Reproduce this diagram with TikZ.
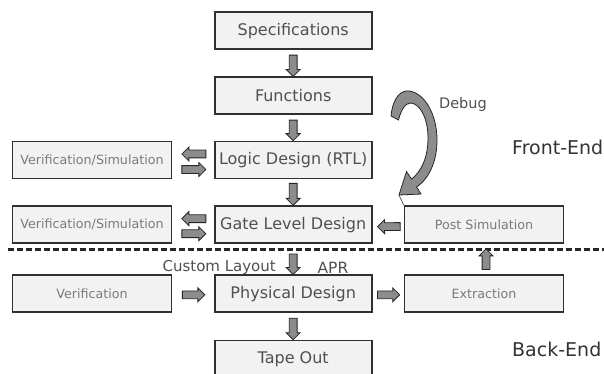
\documentclass[tikz,border=0pt]{standalone}
\usepackage{fontspec}
\setmainfont{DejaVu Sans}
\usetikzlibrary{calc}
\definecolor{boxfill}{HTML}{F2F2F2}
\definecolor{boxline}{HTML}{303030}
\definecolor{txtmain}{HTML}{505050}
\definecolor{txtsmall}{HTML}{7A7A7A}
\definecolor{arrfill}{HTML}{8C8C8C}
\newcommand\blockconn[2]{%
  \path #1 coordinate (bs);
  \path #2 coordinate (bt);
  \path ($(bt)!7pt!(bs)$) coordinate (bh);
  \filldraw[blockarr] ($(bs)!3.9pt!90:(bh)$) -- ($(bh)!3.9pt!-90:(bs)$) -- ($(bh)!7pt!-90:(bs)$) -- (bt) -- ($(bh)!7pt!90:(bs)$) -- ($(bh)!3.9pt!90:(bs)$) -- ($(bs)!3.9pt!-90:(bh)$) -- cycle;}
\begin{document}
\begin{tikzpicture}[x=1pt,y=-1pt,
  mainbox/.style={draw=boxline, line width=1.7pt, fill=boxfill, minimum width=157pt, minimum height=37pt, inner sep=0pt, font=\fontsize{16}{19}\selectfont, text=txtmain},
  sidebox/.style={mainbox, minimum width=159pt, font=\fontsize{12.7}{15}\selectfont, text=txtsmall},
  blockarr/.style={draw=black!85, line width=0.8pt, fill=arrfill, line join=miter},
  lbl/.style={inner sep=0pt, text=txtmain},
  endlbl/.style={inner sep=0pt, anchor=west, text=black!80, font=\fontsize{19}{22}\selectfont}]
\useasboundingbox (0,0) rectangle (604,374);
\fill[white] (0,0) rectangle (604,374);
% main column
\node[mainbox] (spec) at (293.2,30.8) {Specifications};
\node[mainbox] (func) at (293.2,95.8) {Functions};
\node[mainbox] (logic) at (293.2,160) {Logic Design (RTL)};
\node[mainbox] (gate) at (293.2,224.7) {Gate Level Design};
\node[mainbox] (phys) at (293.2,293.8) {Physical Design};
\node[mainbox] (tape) at (293.2,359) {Tape Out};
% left column
\node[sidebox] (vs1) at (92,160) {Verification/Simulation};
\node[sidebox] (vs2) at (92,224.7) {Verification/Simulation};
\node[sidebox] (verif) at (92,293.8) {Verification};
% right column
\node[sidebox] (post) at (484,224.5) {Post Simulation};
\node[sidebox] (extr) at (484,293.8) {Extraction};
% labels
\node[lbl, font=\fontsize{14.5}{17}\selectfont] (debug) at (463,105) {Debug};
\node[lbl, font=\fontsize{15}{18}\selectfont] (custom) at (219.2,267.5) {Custom Layout};
\node[lbl, font=\fontsize{15.5}{18}\selectfont] (apr) at (333,267.5) {APR};
\node[endlbl] (front) at (512,147) {Front-End};
\node[endlbl] (back) at (512,349) {Back-End};
% dashed separator
\coordinate (dl) at (8,249);
\coordinate (dr) at (604,249);
\draw[line width=3pt, dash pattern=on 6pt off 3pt, black!85] (dl) -- (dr);
% vertical block arrows
\blockconn{(spec.south) ++(0,5)}{(func.north)}
\blockconn{(func.south) ++(0,5)}{(logic.north)}
\blockconn{(logic.south) ++(0,4)}{(gate.north)}
\blockconn{(gate.south) ++(0,10)}{(phys.north)}
\blockconn{(phys.south) ++(0,5)}{(tape.north)}
\blockconn{(extr.north) ++(2,-5)}{(post.south) ++(2,5)}
% horizontal block arrows
\blockconn{(logic.west) ++(-8,-6)}{(vs1.east) ++(9.5,-6)}
\blockconn{(vs1.east) ++(9.5,9.5)}{(logic.west) ++(-8,9.5)}
\blockconn{(gate.west) ++(-8,-6)}{(vs2.east) ++(9.5,-6)}
\blockconn{(vs2.east) ++(9.5,9)}{(gate.west) ++(-8,9)}
\blockconn{(post.west) ++(-3.5,2)}{(gate.east) ++(5,2)}
\blockconn{(verif.east) ++(10,1)}{(phys.west) ++(-9,1)}
\blockconn{(phys.east) ++(5,1)}{(extr.west) ++(-4,1)}
% debug curved arrow
\coordinate (dbgtip) at (399,195);
\filldraw[blockarr] (391,116)
  .. controls (393,96) and (402,90) .. (409,91)
  .. controls (425,93) and (437,115) .. (437,140)
  .. controls (437,160) and (430,178) .. (416.5,187)
  -- (421,194) -- (dbgtip) -- (406.5,171.5) -- (411.5,179)
  .. controls (421,172) and (428,158) .. (428,138)
  .. controls (428,118) and (420,104) .. (411,103)
  .. controls (405,103) and (401,110) .. (398.5,120) -- cycle;
\draw[line width=0.6pt, black!80] (dbgtip) -- (post.north west);
\end{tikzpicture}
\end{document}
